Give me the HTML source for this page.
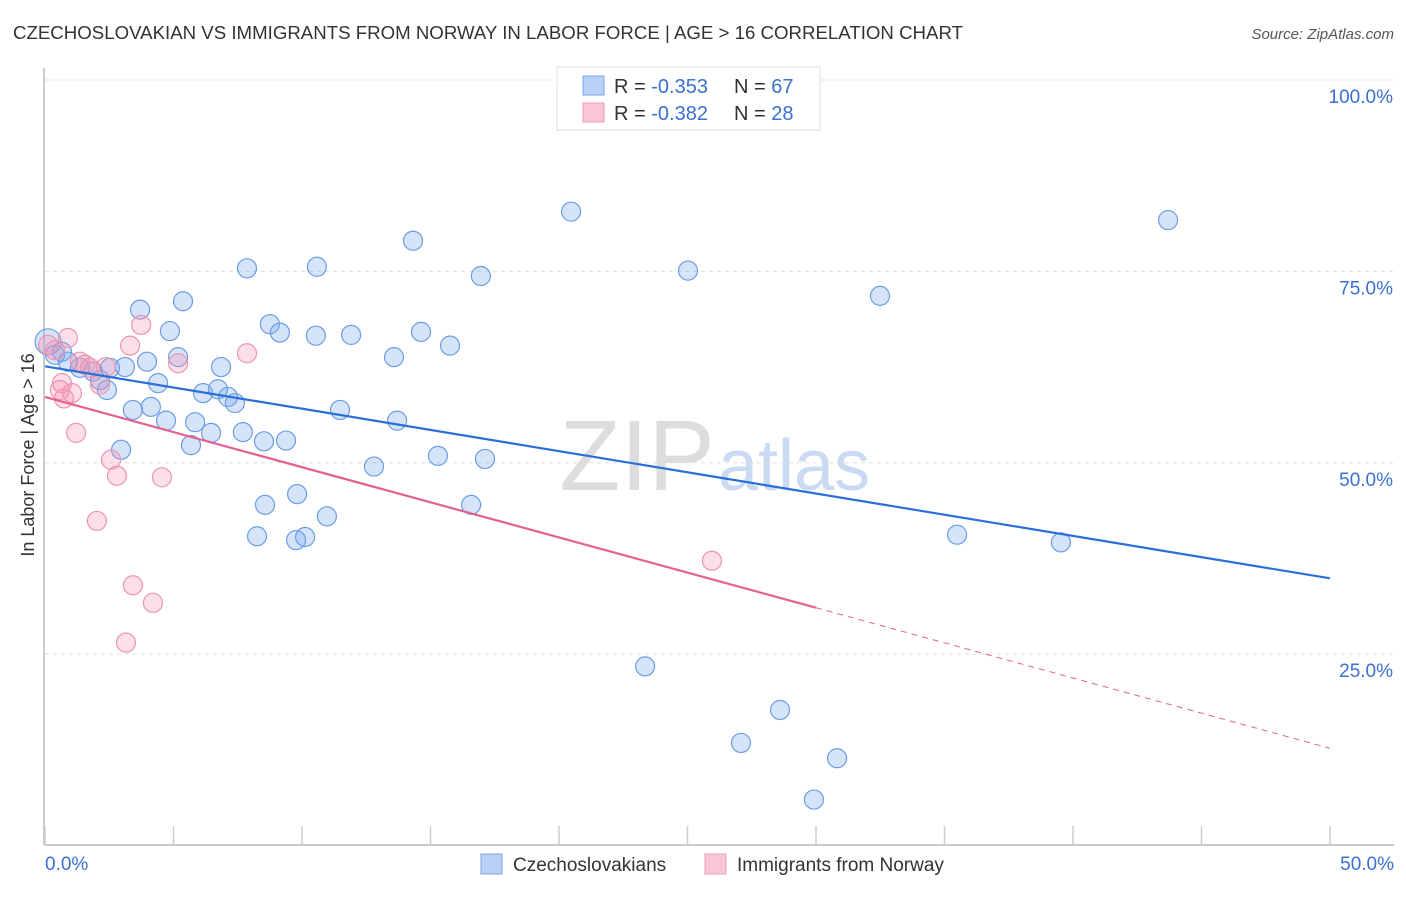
<!DOCTYPE html>
<html><head><meta charset="utf-8"><style>
body{margin:0;background:#fff;font-family:"Liberation Sans",sans-serif;}
svg text{font-family:"Liberation Sans",sans-serif;}
</style></head><body>
<svg id="c" width="1406" height="892" xmlns="http://www.w3.org/2000/svg">
<text x="13" y="39" font-size="18" fill="#333" textLength="950" lengthAdjust="spacingAndGlyphs">CZECHOSLOVAKIAN VS IMMIGRANTS FROM NORWAY IN LABOR FORCE | AGE &gt; 16 CORRELATION CHART</text>
<text x="1394" y="39" font-size="15" fill="#555" font-style="italic" text-anchor="end">Source: ZipAtlas.com</text>
<text x="715" y="490" font-size="100" fill="#ddd" text-anchor="end" font-family="Liberation Serif">ZIP</text>
<text x="718" y="490" font-size="72" fill="#c9daf2">atlas</text>
<g id="grid"></g>
<g id="axes"></g>
<g id="pts"></g>
<g id="trend"></g>
<text transform="translate(34,455) rotate(-90)" font-size="18" fill="#333" text-anchor="middle">In Labor Force | Age &gt; 16</text>
<g>
<rect x="557" y="67" width="263" height="63" fill="#fff" stroke="#ddd"/>
<rect x="583" y="76" width="21" height="19" fill="#b9d1f4" stroke="#7ba6e6"/>
<rect x="583" y="103" width="21" height="19" fill="#f9c6d5" stroke="#ee9cb6"/>
<text x="614" y="93" font-size="20" fill="#333">R = <tspan fill="#3a70d2">-0.353</tspan></text>
<text x="734" y="93" font-size="20" fill="#333">N = <tspan fill="#3a70d2">67</tspan></text>
<text x="614" y="120" font-size="20" fill="#333">R = <tspan fill="#3a70d2">-0.382</tspan></text>
<text x="734" y="120" font-size="20" fill="#333">N = <tspan fill="#3a70d2">28</tspan></text>
</g>
<g>
<rect x="481" y="854" width="21" height="20" fill="#b9d1f4" stroke="#7ba6e6"/>
<text x="513" y="871" font-size="19" fill="#333">Czechoslovakians</text>
<rect x="705" y="854" width="21" height="20" fill="#f9c6d5" stroke="#ee9cb6"/>
<text x="737" y="871" font-size="19" fill="#333">Immigrants from Norway</text>
</g>
</svg>
<script>
const blueX=[0.12,0.39,0.66,0.89,1.36,1.87,2.14,2.41,2.53,3.11,2.96,3.42,3.70,3.97,4.12,4.40,4.71,4.86,5.18,5.37,5.68,5.84,6.15,6.46,6.73,6.85,7.12,7.39,7.70,7.86,8.52,8.56,8.25,8.75,9.14,9.38,9.81,9.77,10.12,10.58,10.54,10.97,11.48,11.91,12.80,13.58,13.70,14.32,14.63,15.29,15.76,16.58,16.96,17.12,20.47,23.35,25.02,27.08,28.60,29.92,30.82,32.49,35.49,39.53,43.70];
const blueY=[65.8,64.1,64.5,63.2,62.4,61.9,60.8,59.5,62.4,62.5,51.7,56.9,70.0,63.2,57.3,60.4,55.5,67.2,63.8,71.1,52.3,55.3,59.1,53.9,59.6,62.5,58.6,57.8,54.0,75.4,52.8,44.5,40.4,68.1,67.0,52.9,45.9,39.9,40.3,75.6,66.6,43.0,56.9,66.7,49.5,63.8,55.5,79.0,67.1,50.9,65.3,44.5,74.4,50.5,82.8,23.4,75.1,13.4,17.7,6.0,11.4,71.8,40.6,39.6,81.7];
const pinkX=[0.12,0.39,0.66,0.74,0.89,1.05,1.21,1.36,1.56,1.75,2.02,2.37,2.57,2.80,3.15,3.31,3.42,3.74,4.20,4.55,5.18,7.86,25.95,0.58,2.14];
const pinkY=[65.4,64.7,60.4,58.4,66.3,59.1,53.9,63.2,62.8,62.4,42.4,62.5,50.4,48.3,26.5,65.3,34.0,68.0,31.7,48.1,63.0,64.3,37.2,59.5,60.2];
const yTicks=[100,75,50,25];
const yTickLabels=["100.0%","75.0%","50.0%","25.0%"];
const xTicks=[0,5,10,15,20,25,30,35,40,45,50];
const blueTrend=[62.6,34.9];
const pinkTrend=[58.6,12.7];
const pinkSolidEnd=30;
const NS='http://www.w3.org/2000/svg';
const sx=v=>45+v/50*1285, sy=v=>845.5-v/100*765.5;
function mk(tag,attrs,parent){const e=document.createElementNS(NS,tag);for(const k in attrs)e.setAttribute(k,attrs[k]);document.getElementById(parent).appendChild(e);return e;}
yTicks.forEach((t,i)=>{
 const l=mk('line',{x1:45,x2:1394,y1:sy(t),y2:sy(t),stroke:'#ddd','stroke-dasharray':'4,4'},'grid');
 
 
 const tx=mk('text',{x:1393,y:sy(t)+23,'font-size':19,fill:'#3a70d2','text-anchor':'end'},'grid');
 tx.textContent=yTickLabels[i];
 
 
});
let a=mk('line',{x1:44,x2:44,y1:68,y2:845,stroke:'#bbb','stroke-width':1.5},'axes');


a=mk('line',{x1:44,x2:1394,y1:845,y2:845,stroke:'#bbb','stroke-width':1.5},'axes');


xTicks.forEach(t=>{const l=mk('line',{x1:sx(t),x2:sx(t),y1:826,y2:845,stroke:'#ccc','stroke-width':1.5},'axes');
 
 });
let t0=mk('text',{x:45,y:870,'font-size':19,fill:'#3a70d2'},'axes');t0.textContent='0.0%';


t0=mk('text',{x:1394,y:870,'font-size':19,fill:'#3a70d2','text-anchor':'end'},'axes');t0.textContent='50.0%';


blueX.forEach((x,i)=>{const c=mk('circle',{cx:sx(x),cy:sy(blueY[i]),r:i==0?13:9.5,fill:'rgba(120,165,235,0.3)',stroke:'#6b9de3','stroke-width':1.2},'pts');
 
 });
pinkX.forEach((x,i)=>{const c=mk('circle',{cx:sx(x),cy:sy(pinkY[i]),r:9.5,fill:'rgba(245,150,180,0.3)',stroke:'#ee94b0','stroke-width':1.2},'pts');
 
 });
let l=mk('line',{x1:sx(0),y1:sy(blueTrend[0]),x2:sx(50),y2:sy(blueTrend[1]),stroke:'#2a6fd8','stroke-width':2.2},'trend');


const pm=pinkTrend[0]+(pinkTrend[1]-pinkTrend[0])*pinkSolidEnd/50;
l=mk('line',{x1:sx(0),y1:sy(pinkTrend[0]),x2:sx(pinkSolidEnd),y2:sy(pm),stroke:'#e4608e','stroke-width':2.2},'trend');


l=mk('line',{x1:sx(pinkSolidEnd),y1:sy(pm),x2:sx(50),y2:sy(pinkTrend[1]),stroke:'#e4608e','stroke-width':1,'stroke-dasharray':'6,5'},'trend');


</script>
</body></html>
